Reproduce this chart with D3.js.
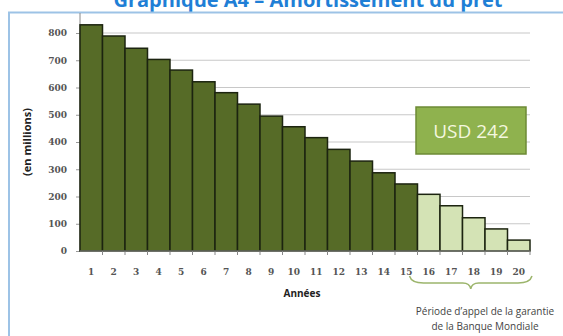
<!DOCTYPE html>
<html>
<head>
<meta charset="utf-8">
<script src="https://cdn.jsdelivr.net/npm/d3@7"></script>
<style>
  body { margin: 0; background: #fff; }
  svg { display: block; }
</style>
</head>
<body>
<svg id="chart" width="563" height="336"></svg>
<script>
// Loan amortisation, outstanding amount per year (USD millions)
const years = d3.range(1, 21);
const amounts = [830, 789, 744, 703, 664, 621, 581, 539, 495, 456,
                 416, 373, 330, 287, 246, 208, 166, 122, 81, 40];
const guaranteeYears = [16, 17, 18, 19, 20];
const yTicks = [0, 100, 200, 300, 400, 500, 600, 700, 800];

const svg = d3.select("#chart");

const x = d3.scaleBand().domain(years).range([80, 530]).padding(0);
const y = d3.scaleLinear().domain([0, 800]).range([251, 33]);

// title (cut off at the top in the original)
svg.append("text")
    .attr("x", 308).attr("y", 7)
    .attr("text-anchor", "middle")
    .style("font-family", "'Open Sans', sans-serif")
    .style("font-weight", "bold")
    .style("font-size", "20px")
    .style("fill", "#1f7fd6")
    .text("Graphique A4 – Amortissement du prêt");

// frame
svg.append("rect")
    .attr("x", 9).attr("y", 12.5)
    .attr("width", 600).attr("height", 340)
    .attr("fill", "none")
    .attr("stroke", "#9dc3e6")
    .attr("stroke-width", 2);

// gridlines
svg.append("g")
    .selectAll("line")
    .data(yTicks.filter(d => d > 0))
    .join("line")
    .attr("x1", 80).attr("x2", 530)
    .attr("y1", d => y(d)).attr("y2", d => y(d))
    .attr("stroke", "#c8c8c8")
    .attr("stroke-width", 1.2);

// y axis
const yAxis = svg.append("g")
    .attr("transform", "translate(80,0)")
    .call(d3.axisLeft(y).tickValues(yTicks).tickSize(4).tickPadding(9));
yAxis.select(".domain").remove();
yAxis.selectAll(".tick line").attr("stroke", "#999");
yAxis.selectAll("text")
    .style("font-family", "'DejaVu Serif', serif")
    .style("font-weight", "bold")
    .style("font-size", "9px")
    .style("fill", "#555");
svg.append("line")
    .attr("x1", 80).attr("x2", 80)
    .attr("y1", 13).attr("y2", 251)
    .attr("stroke", "#888");

// bars
svg.append("g")
    .selectAll("rect")
    .data(years)
    .join("rect")
    .attr("x", d => x(d))
    .attr("y", (d, i) => y(amounts[i]))
    .attr("width", x.bandwidth())
    .attr("height", (d, i) => y(0) - y(amounts[i]))
    .attr("fill", d => guaranteeYears.includes(d) ? "#d4e3b5" : "#566b27")
    .attr("stroke", "#1c2410")
    .attr("stroke-width", 1.5);

// x axis
svg.append("line")
    .attr("x1", 80).attr("x2", 530)
    .attr("y1", 251).attr("y2", 251)
    .attr("stroke", "#888");
svg.append("g")
    .selectAll("line")
    .data(years)
    .join("line")
    .attr("x1", d => x(d) + x.bandwidth()).attr("x2", d => x(d) + x.bandwidth())
    .attr("y1", 251).attr("y2", 255)
    .attr("stroke", "#888");
svg.append("g")
    .selectAll("text")
    .data(years)
    .join("text")
    .attr("x", d => x(d) + x.bandwidth() / 2)
    .attr("y", 275)
    .attr("text-anchor", "middle")
    .style("font-family", "'DejaVu Serif', serif")
    .style("font-weight", "bold")
    .style("font-size", "9px")
    .style("fill", "#555")
    .text(d => d);

// axis titles
svg.append("text")
    .attr("x", 302).attr("y", 297)
    .attr("text-anchor", "middle")
    .style("font-family", "'Open Sans', sans-serif")
    .style("font-weight", "bold")
    .style("font-size", "10px")
    .style("fill", "#222")
    .text("Années");
svg.append("text")
    .attr("transform", "translate(31,142) rotate(-90)")
    .attr("text-anchor", "middle")
    .style("font-family", "'Open Sans', sans-serif")
    .style("font-weight", "bold")
    .style("font-size", "11px")
    .style("fill", "#222")
    .text("(en millions)");

// callout box
svg.append("rect")
    .attr("x", 416).attr("y", 107)
    .attr("width", 110).attr("height", 47)
    .attr("fill", "#8fb24e")
    .attr("stroke", "#6d8a36")
    .attr("stroke-width", 1.5);
svg.append("text")
    .attr("x", 471).attr("y", 138)
    .attr("text-anchor", "middle")
    .style("font-family", "'Open Sans', sans-serif")
    .style("font-size", "19px")
    .style("fill", "#f4f7df")
    .text("USD 242");

// brace under the guarantee period
const bx0 = x(16) - 8, bx1 = x(20) + x.bandwidth() + 2;
const bm = (bx0 + bx1) / 2, by = 276;
svg.append("path")
    .attr("d", `M${bx0},${by} Q${bx0 + 2},${by + 7} ${bx0 + 14},${by + 7}
                L${bm - 8},${by + 7} Q${bm - 1},${by + 7} ${bm},${by + 13}
                Q${bm + 1},${by + 7} ${bm + 8},${by + 7}
                L${bx1 - 14},${by + 7} Q${bx1 - 2},${by + 7} ${bx1},${by}`)
    .attr("fill", "none")
    .attr("stroke", "#9cb56c")
    .attr("stroke-width", 1.5);

const note = svg.append("text")
    .attr("text-anchor", "middle")
    .style("font-family", "'Open Sans', sans-serif")
    .style("font-size", "10px")
    .style("fill", "#444");
note.append("tspan").attr("x", 485).attr("y", 315).text("Période d’appel de la garantie");
note.append("tspan").attr("x", 485).attr("y", 330).text("de la Banque Mondiale");
</script>
</body>
</html>
